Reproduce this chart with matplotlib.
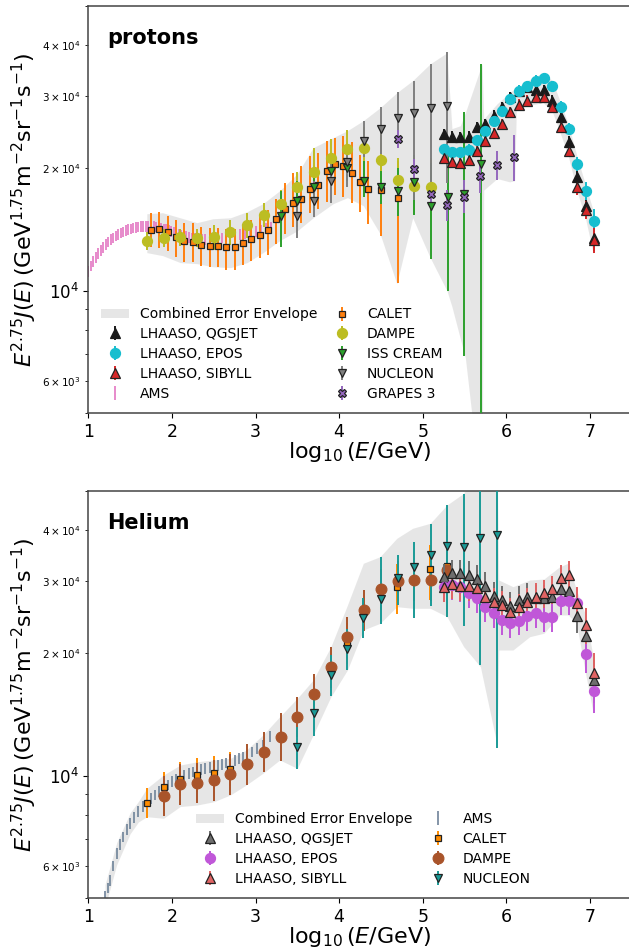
import numpy as np
import matplotlib
matplotlib.use("Agg")
import matplotlib.pyplot as plt
from matplotlib.patches import Patch

# ======================= PROTONS =======================
p_ams_x = [1.00, 1.03, 1.06, 1.09, 1.12, 1.15, 1.18, 1.21, 1.24, 1.27, 1.30, 1.33, 1.36, 1.39,
           1.42, 1.45, 1.48, 1.51, 1.54, 1.57, 1.60, 1.63, 1.66, 1.69, 1.72, 1.75, 1.78, 1.81,
           1.84, 1.87, 1.90, 1.93, 1.96, 1.99, 2.02, 2.05, 2.08, 2.11, 2.14, 2.17, 2.20, 2.24,
           2.28, 2.32, 2.36, 2.40, 2.45, 2.50, 2.55, 2.60, 2.65, 2.70, 2.76, 2.82, 2.88, 2.94,
           3.00, 3.06, 3.12, 3.18, 3.24]
p_ams_y = [11150, 11500, 11800, 12080, 12330, 12570, 12790, 12990, 13170, 13340, 13490, 13620,
           13740, 13850, 13950, 14040, 14120, 14190, 14250, 14300, 14340, 14370, 14390, 14400,
           14400, 14390, 14370, 14340, 14300, 14250, 14190, 14120, 14050, 13980, 13910, 13840,
           13770, 13700, 13640, 13580, 13530, 13480, 13440, 13410, 13390, 13380, 13380, 13400,
           13430, 13470, 13520, 13580, 13650, 13730, 13820, 13910, 14000, 14100, 14200, 14300,
           14400]
p_ams_rel = 0.03

p_calet_x = [1.75, 1.85, 1.95, 2.05, 2.15, 2.25, 2.35, 2.45, 2.55, 2.65, 2.75, 2.85, 2.95, 3.05,
             3.15, 3.25, 3.35, 3.45, 3.55, 3.65, 3.75, 3.85, 3.95, 4.05, 4.15, 4.25, 4.35, 4.50, 4.70]
p_calet_y = [14100, 14150, 13900, 13570, 13210, 13190, 12940, 12850, 12850, 12770, 12770, 13120,
             13430, 13700, 14100, 14960, 15870, 16440, 16830, 17800, 18200, 19630, 20470, 20190,
             19500, 18530, 17770, 17700, 16890]
p_calet_up = [0.10, 0.10, 0.10, 0.10, 0.11, 0.11, 0.11, 0.11, 0.11, 0.11, 0.11, 0.11, 0.11, 0.11,
              0.12, 0.12, 0.16, 0.18, 0.20, 0.20, 0.20, 0.19, 0.16, 0.19, 0.19, 0.16, 0.17, 0.18, 0.23]
p_calet_dn = [0.09, 0.10, 0.10, 0.11, 0.11, 0.11, 0.11, 0.11, 0.11, 0.12, 0.12, 0.12, 0.12, 0.12,
              0.13, 0.13, 0.13, 0.13, 0.13, 0.13, 0.13, 0.16, 0.16, 0.16, 0.16, 0.16, 0.18, 0.23, 0.38]

p_dampe_x = [1.7, 1.9, 2.1, 2.3, 2.5, 2.7, 2.9, 3.1, 3.3, 3.5, 3.7, 3.9, 4.1, 4.3, 4.5, 4.7, 4.9, 5.1]
p_dampe_y = [13270, 13470, 13520, 13470, 13520, 13900, 14520, 15370, 16370, 17930, 19520, 21190,
             22290, 22350, 20940, 18730, 18110, 17930]
p_dampe_up = [0.05, 0.05, 0.05, 0.05, 0.07, 0.07, 0.07, 0.07, 0.08, 0.09, 0.15, 0.11, 0.11, 0.13,
              0.17, 0.13, 0.12, 0.18]
p_dampe_dn = [0.05, 0.05, 0.05, 0.05, 0.07, 0.07, 0.07, 0.07, 0.09, 0.09, 0.09, 0.13, 0.13, 0.14,
              0.16, 0.15, 0.15, 0.17]

p_iss_x = [3.3, 3.5, 3.7, 3.9, 4.1, 4.3, 4.5, 4.7, 4.9, 5.1, 5.3, 5.5, 5.7]
p_iss_y = [15280, 16630, 17930, 19630, 20000, 18620, 17930, 17570, 18450, 16170, 16950, 17280, 20470]
p_iss_up = [0.15, 0.12, 0.12, 0.09, 0.07, 0.12, 0.10, 0.14, 0.17, 0.27, 0.27, 0.59, 0.76]
p_iss_dn = [0.16, 0.14, 0.11, 0.08, 0.07, 0.09, 0.09, 0.13, 0.17, 0.26, 0.41, 0.60, 0.95]

p_nucleon_x = [3.5, 3.7, 3.9, 4.1, 4.3, 4.5, 4.7, 4.9, 5.1, 5.29]
p_nucleon_y = [15280, 16630, 18620, 20660, 23340, 24950, 26550, 27300, 28100, 28350]
p_nucleon_up = [0.11, 0.12, 0.12, 0.09, 0.12, 0.13, 0.16, 0.20, 0.28, 0.36]
p_nucleon_dn = [0.12, 0.09, 0.12, 0.13, 0.09, 0.13, 0.15, 0.39, 0.36, 0.35]

p_grapes_x = [4.70, 4.90, 5.10, 5.29, 5.49, 5.69, 5.89, 6.09]
p_grapes_y = [23580, 19900, 17280, 16250, 17010, 19080, 20350, 21330]
p_grapes_up = [0.05, 0.06, 0.07, 0.09, 0.10, 0.09, 0.08, 0.13]
p_grapes_dn = [0.05, 0.06, 0.07, 0.09, 0.09, 0.09, 0.08, 0.13]

lhaaso_x = [5.25, 5.35, 5.45, 5.55, 5.65, 5.75, 5.85, 5.95, 6.05, 6.15, 6.25, 6.35, 6.45, 6.55,
            6.65, 6.75, 6.85, 6.95, 7.05]
p_qgs_y = [24250, 23880, 23780, 23880, 25170, 25670, 26900, 28200, 29830, 30980, 31690, 31100,
           31100, 29280, 26640, 23120, 18970, 16110, 13460]
p_epos_y = [22290, 21860, 21860, 22190, 23440, 24710, 26150, 27670, 29560, 30980, 31850, 32790,
            33280, 31850, 28310, 24950, 20470, 17600, 14790]
p_sib_y = [21170, 20660, 20590, 20980, 21980, 23260, 24380, 25650, 27420, 28620, 29280, 29830,
           29830, 28310, 25270, 22070, 17930, 15780, 13320]
p_lhaaso_rel = [0.03, 0.03, 0.03, 0.03, 0.03, 0.03, 0.03, 0.03, 0.03, 0.03, 0.03, 0.03, 0.03,
                0.03, 0.03, 0.035, 0.04, 0.05, 0.07]

p_env_x = [1.70, 1.89, 2.10, 2.30, 2.49, 2.70, 2.90, 3.09, 3.29, 3.50, 3.69, 3.93, 4.10, 4.29,
           4.49, 4.69, 4.88, 5.09, 5.29, 5.35, 5.45, 5.51, 5.71, 5.73, 5.89, 6.04, 6.10, 6.12,
           6.25, 6.44, 6.55, 6.64, 6.74, 6.85, 6.94, 7.04]
p_env_hi = [15450, 15540, 15100, 14690, 15020, 15100, 15630, 16360, 17600, 19370, 22440, 23760,
            24720, 26150, 28130, 30620, 32790, 36060, 38370, 25000, 25410, 27350, 36060, 26420,
            28770, 30620, 31330, 31400, 32790, 34280, 32790, 29280, 25700, 21210, 18410, 15710]
p_env_lo = [12400, 12190, 11720, 11650, 11450, 11390, 11720, 12400, 13270, 14030, 15100, 16360,
            16920, 16170, 13800, 10400, 15100, 12050, 10000, 9130, 7620, 6850, 3000, 17650,
            18850, 18500, 18620, 27800, 28450, 28950, 27510, 24550, 21460, 17400, 15280, 12330]

# ======================= HELIUM =======================
h_ams_x = [1.20, 1.23, 1.26, 1.30, 1.34, 1.38, 1.42, 1.46, 1.50, 1.55, 1.60, 1.65, 1.70, 1.75,
           1.80, 1.85, 1.90, 1.95, 2.00, 2.05, 2.10, 2.15, 2.20, 2.25, 2.30, 2.35, 2.40, 2.45,
           2.50, 2.55, 2.60, 2.65, 2.70, 2.75, 2.80, 2.85, 2.90, 2.96, 3.02, 3.09, 3.17]
h_ams_y = [5050, 5300, 5540, 6000, 6450, 6780, 7080, 7370, 7640, 7900, 8160, 8400, 8630, 8800,
           8970, 9140, 9310, 9490, 9670, 9810, 9940, 10040, 10130, 10220, 10320, 10370, 10420,
           10470, 10520, 10600, 10670, 10740, 10820, 10920, 11030, 11130, 11240, 11440, 11650,
           11890, 12470]
h_ams_rel = 0.03

h_calet_x = [1.70, 1.90, 2.10, 2.30, 2.50, 2.70, 4.09, 4.69, 5.09, 5.29]
h_calet_y = [8550, 9370, 9800, 10040, 10170, 10370, 21140, 29010, 32130, 32730]
h_calet_up = [0.09, 0.09, 0.10, 0.10, 0.10, 0.10, 0.12, 0.14, 0.15, 0.25]
h_calet_dn = [0.08, 0.08, 0.09, 0.09, 0.09, 0.09, 0.11, 0.14, 0.16, 0.25]

h_dampe_x = [1.9, 2.1, 2.3, 2.5, 2.7, 2.9, 3.1, 3.3, 3.5, 3.7, 3.9, 4.1, 4.3, 4.5, 4.7, 4.9, 5.1, 5.29]
h_dampe_y = [8930, 9530, 9610, 9760, 10100, 10660, 11450, 12470, 13960, 15870, 18450, 21880,
             25520, 28690, 30120, 30230, 30230, 31990]
h_dampe_up = [0.12, 0.12, 0.12, 0.12, 0.12, 0.12, 0.12, 0.14, 0.12, 0.12, 0.12, 0.12, 0.12, 0.12,
              0.12, 0.12, 0.12, 0.22]
h_dampe_dn = [0.11, 0.11, 0.11, 0.11, 0.11, 0.11, 0.11, 0.13, 0.11, 0.11, 0.11, 0.11, 0.11, 0.11,
              0.11, 0.11, 0.11, 0.20]

h_nucleon_x = [3.5, 3.7, 3.9, 4.1, 4.29, 4.5, 4.7, 4.9, 5.1, 5.29, 5.49, 5.69, 5.89]
h_nucleon_y = [11780, 14230, 17660, 20420, 24430, 27100, 30520, 32590, 34830, 36640, 36500, 38260, 39000]
h_nucleon_up = [0.12, 0.15, 0.12, 0.12, 0.12, 0.27, 0.14, 0.15, 0.19, 0.26, 0.35, 0.50, 0.60]
h_nucleon_dn = [0.12, 0.12, 0.11, 0.11, 0.11, 0.13, 0.14, 0.25, 0.25, 0.33, 0.36, 0.51, 0.70]

h_qgs_y = [30690, 31400, 31400, 31100, 30400, 29240, 27610, 27000, 26100, 27000, 27510, 27260,
           27260, 27420, 28690, 28460, 24660, 22030, 17180]
h_epos_y = [29100, 29380, 29010, 28040, 27260, 25910, 25120, 24100, 23660, 24020, 24660, 25050,
            24490, 24490, 26890, 26890, 26490, 19900, 16170]
h_sib_y = [29010, 29560, 29240, 29240, 28840, 27510, 26730, 26240, 25270, 25910, 26730, 27510,
           28040, 28690, 30520, 31100, 26600, 23440, 17910]
h_lhaaso_rel = [0.08, 0.08, 0.08, 0.08, 0.08, 0.08, 0.08, 0.08, 0.08, 0.08, 0.08, 0.08, 0.08,
                0.08, 0.08, 0.08, 0.09, 0.10, 0.12]

h_env_x = [1.20, 1.34, 1.50, 1.60, 1.70, 1.90, 2.10, 2.30, 2.50, 2.70, 2.89, 3.09, 3.29, 3.50,
           3.69, 3.90, 4.10, 4.29, 4.49, 4.69, 4.88, 5.09, 5.29, 5.49, 5.69, 5.89, 5.91, 6.08,
           6.28, 6.45, 6.64, 6.74, 6.84, 6.94, 7.04]
h_env_hi = [5400, 6850, 8100, 8650, 9310, 10040, 10620, 10820, 10930, 11030, 11560, 12590, 13960,
            15490, 17180, 20690, 26250, 33230, 34490, 38270, 40500, 41660, 46190, 49350, 60000,
            60000, 30230, 29110, 30230, 30400, 32600, 33230, 28580, 25050, 19600]
h_env_lo = [4750, 6050, 7200, 7700, 7930, 7860, 8400, 8470, 8630, 8970, 9490, 10140, 10930,
            10420, 12590, 15600, 18180, 22790, 23660, 26000, 25760, 25760, 24580, 20740, 18520,
            11900, 20350, 20350, 21940, 22370, 24810, 24810, 23660, 18180, 14230]

# ======================= PLOTTING =======================
W, H = 629, 948
fig = plt.figure(figsize=(W / 100, H / 100), dpi=100)
ax1 = fig.add_axes([88.3 / W, 534.7 / H, 543.4 / W, 407.3 / H])
ax2 = fig.add_axes([88.3 / W, 49.7 / H, 543.4 / W, 407.3 / H])


def eb(ax, x, y, up, dn, label, color, marker, ms, mec=None, ecolor=None, elw=1.4, z=3):
    y = np.asarray(y, float)
    up = np.broadcast_to(np.asarray(up, float), y.shape)
    dn = np.broadcast_to(np.asarray(dn, float), y.shape)
    yerr = np.vstack([y * dn, y * up])
    kw = dict(fmt=marker, ms=ms, color=color, ecolor=ecolor or color,
              elinewidth=elw, capsize=0, label=label, zorder=z)
    if marker == 'none':
        kw['fmt'] = 'none'
    else:
        kw['mfc'] = color
        kw['mec'] = mec or color
        kw['mew'] = 0.9
    return ax.errorbar(x, y, yerr=yerr, **kw)


def style(ax, title):
    ax.set_yscale('log')
    ax.set_xlim(1, 7.5)
    ax.set_ylim(5000, 50000)
    ax.set_xlabel(r'$\log_{10}(E/\mathrm{GeV})$', fontsize=16, labelpad=-1)
    ax.set_ylabel(r'$E^{2.75}J(E)\,(\mathrm{GeV}^{1.75}\mathrm{m}^{-2}\mathrm{sr}^{-1}\mathrm{s}^{-1})$',
                  fontsize=16, labelpad=2)
    ax.tick_params(axis='x', which='major', labelsize=12.5)
    ax.tick_params(axis='y', which='major', labelsize=12)
    ax.tick_params(axis='y', which='minor', labelsize=7.5)
    for s in ax.spines.values():
        s.set_color('#444444')
        s.set_linewidth(1.1)
    ax.text(0.034, 0.921, title, transform=ax.transAxes, fontsize=15, fontweight='bold',
            ha='left', va='center')


env_color = '#d3d3d3'
MS_BIG = 7.2
MS_TRI = 7.0
MS_V = 6.3
MS_SQ = 5.0

# ---- protons
ax = ax1
ax.fill_between(p_env_x, p_env_lo, p_env_hi, color=env_color, alpha=0.55, lw=0, zorder=0)
h_q = eb(ax, lhaaso_x, p_qgs_y, p_lhaaso_rel, p_lhaaso_rel, 'LHAASO, QGSJET', '#1a1a1a', '^', MS_TRI, mec='#1a1a1a', z=4)
h_e = eb(ax, lhaaso_x, p_epos_y, p_lhaaso_rel, p_lhaaso_rel, 'LHAASO, EPOS', '#17becf', 'o', MS_BIG, z=4)
h_s = eb(ax, lhaaso_x, p_sib_y, p_lhaaso_rel, p_lhaaso_rel, 'LHAASO, SIBYLL', '#d62728', '^', MS_TRI, mec='#222222', z=4)
h_a = eb(ax, p_ams_x, p_ams_y, p_ams_rel, p_ams_rel, 'AMS', '#e377c2', 'none', 0, elw=1.2, z=2)
h_c = eb(ax, p_calet_x, p_calet_y, p_calet_up, p_calet_dn, 'CALET', '#ff7f0e', 's', MS_SQ, mec='#222222', z=3)
h_d = eb(ax, p_dampe_x, p_dampe_y, p_dampe_up, p_dampe_dn, 'DAMPE', '#bcbd22', 'o', MS_BIG, z=3)
h_i = eb(ax, p_iss_x, p_iss_y, p_iss_up, p_iss_dn, 'ISS CREAM', '#2ca02c', 'v', MS_V, mec='#222222', z=3)
h_n = eb(ax, p_nucleon_x, p_nucleon_y, p_nucleon_up, p_nucleon_dn, 'NUCLEON', '#7f7f7f', 'v', MS_V, mec='#222222', z=3)
h_g = eb(ax, p_grapes_x, p_grapes_y, p_grapes_up, p_grapes_dn, 'GRAPES 3', '#9467bd', 'X', MS_V, mec='#222222', z=3)
style(ax, 'protons')
env_patch = Patch(facecolor=env_color, alpha=0.55, edgecolor='none', label='Combined Error Envelope')
ax.legend(handles=[env_patch, h_q, h_e, h_s, h_a, h_c, h_d, h_i, h_n, h_g], ncol=2, frameon=False,
          fontsize=10, loc='lower left', columnspacing=0.8, labelspacing=0.42)

# ---- helium
ax = ax2
ax.fill_between(h_env_x, h_env_lo, h_env_hi, color=env_color, alpha=0.55, lw=0, zorder=0)
g_q = eb(ax, lhaaso_x, h_qgs_y, h_lhaaso_rel, h_lhaaso_rel, 'LHAASO, QGSJET', '#6e6e6e', '^', MS_TRI, mec='#222222', z=4)
g_e = eb(ax, lhaaso_x, h_epos_y, h_lhaaso_rel, h_lhaaso_rel, 'LHAASO, EPOS', '#c057d8', 'o', MS_BIG, z=4)
g_s = eb(ax, lhaaso_x, h_sib_y, h_lhaaso_rel, h_lhaaso_rel, 'LHAASO, SIBYLL', '#e06464', '^', MS_TRI, mec='#222222', z=4)
g_a = eb(ax, h_ams_x, h_ams_y, h_ams_rel, h_ams_rel, 'AMS', '#6f8399', 'none', 0, elw=1.2, z=2)
g_c = eb(ax, h_calet_x, h_calet_y, h_calet_up, h_calet_dn, 'CALET', '#ff8c00', 's', MS_SQ, mec='#222222', z=3)
g_d = eb(ax, h_dampe_x, h_dampe_y, h_dampe_up, h_dampe_dn, 'DAMPE', '#a9542a', 'o', MS_BIG + 0.5, z=3)
g_n = eb(ax, h_nucleon_x, h_nucleon_y, h_nucleon_up, h_nucleon_dn, 'NUCLEON', '#1a9a96', 'v', MS_V, mec='#222222', z=3)
style(ax, 'Helium')
env_patch2 = Patch(facecolor=env_color, alpha=0.55, edgecolor='none', label='Combined Error Envelope')
ax.legend(handles=[env_patch2, g_q, g_e, g_s, g_a, g_c, g_d, g_n], ncol=2, frameon=False,
          fontsize=10, loc='lower left', bbox_to_anchor=(0.176, 0.0), columnspacing=0.8,
          labelspacing=0.42)

fig.savefig('out.png', dpi=100)
